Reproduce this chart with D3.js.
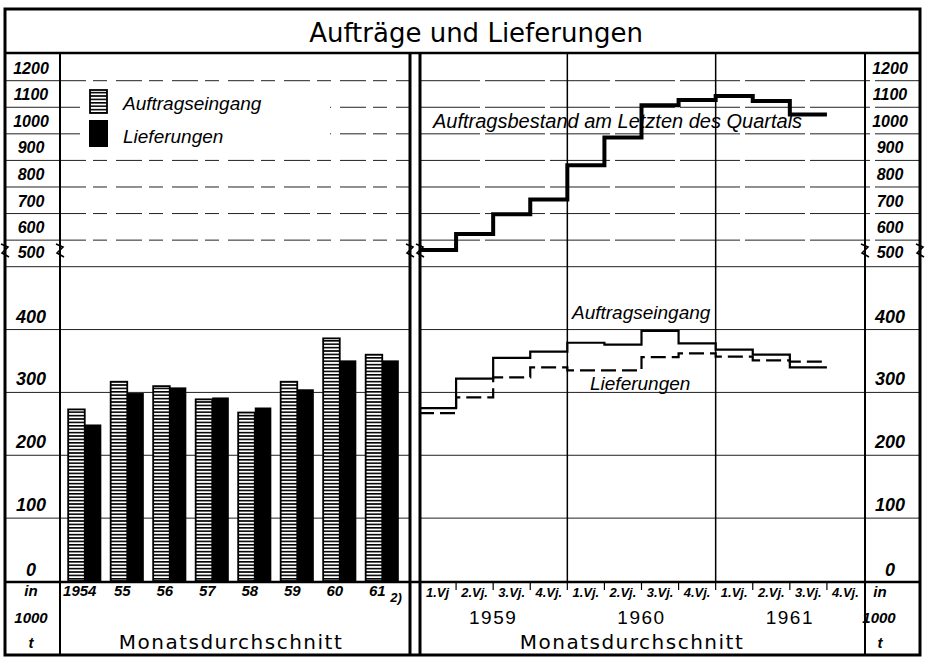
<!DOCTYPE html>
<meta charset="utf-8">
<style>
body { margin: 0; background: #fff; }
svg { display: block; }
.num { font-family: "Liberation Sans", Arial, sans-serif; font-style: italic; font-weight: bold; }
.lbl { font-family: "Liberation Sans", Arial, sans-serif; font-style: italic; }
.gerade { font-family: "DejaVu Sans", sans-serif; }
</style>
<svg width="925" height="657"></svg>
<script src="https://d3js.org/d3.v7.min.js"></script>
<script>
// Jahreswerte (Monatsdurchschnitt, 1000 t)
var jahre = ["1954", "55", "56", "57", "58", "59", "60", "61"];
var eingangJahr = [273, 317, 310, 289, 268, 317, 386, 360];
var lieferJahr = [249, 299, 308, 292, 276, 305, 351, 351];

// Quartalswerte 1959-1961
var quartale = ["1.Vj", "2.Vj.", "3.Vj.", "4.Vj.", "1.Vj.", "2.Vj.", "3.Vj.", "4.Vj.", "1.Vj.", "2.Vj.", "3.Vj.", "4.Vj."];
var quartalJahre = ["1959", "1960", "1961"];
var eingangQ = [275, 322, 355, 365, 379, 376, 398, 378, 368, 360, 340];
var lieferQ = [267, 292, 324, 340, 335, 335, 356, 362, 357, 351, 349];
var bestandQ = [563, 623, 697, 753, 882, 986, 1108, 1127, 1142, 1124, 1073];

var ticksUnten = [0, 100, 200, 300, 400];
var ticksOben = [500, 600, 700, 800, 900, 1000, 1100, 1200];

var svg = d3.select("svg");

// Rahmen
var oben = 9, titelUnten = 53, nullLinie = 582, unten = 655,
    links = 5, achseL = 60, panelL = 410, panelR = 420, achseR = 865, rechts = 920;

var yUnten = d3.scaleLinear().domain([0, 500]).range([581, 266.7]);
var yOben = d3.scaleLinear().domain([500, 1200]).range([266.7, 80.7]);

var xJahr = d3.scaleBand().domain(jahre).range([63.5, 403.5]).paddingInner(0.22).paddingOuter(0.11);
var xReihe = d3.scaleBand().domain(["e", "l"]).range([0, xJahr.bandwidth()]);

var qIds = quartale.map(function(d, i) { return i; });
var xQ = d3.scaleBand().domain(qIds).range([419, 864]);

var defs = svg.append("defs");
var hatch = defs.append("pattern").attr("id", "hatch")
    .attr("width", 6).attr("height", 3.4).attr("patternUnits", "userSpaceOnUse");
hatch.append("rect").attr("width", 6).attr("height", 3.4).attr("fill", "#fff");
hatch.append("rect").attr("width", 6).attr("height", 1.6).attr("fill", "#000");

// Gitterlinien
var grid = svg.append("g").attr("stroke", "#222").attr("stroke-width", 1);
ticksUnten.slice(1).concat([500]).forEach(function(v) {
  grid.append("line").attr("x1", links).attr("x2", panelL).attr("y1", yUnten(v)).attr("y2", yUnten(v));
  grid.append("line").attr("x1", panelR).attr("x2", rechts).attr("y1", yUnten(v)).attr("y2", yUnten(v));
});
ticksOben.slice(1).forEach(function(v) {
  grid.append("line").attr("x1", links).attr("x2", achseL).attr("y1", yOben(v)).attr("y2", yOben(v));
  grid.append("line").attr("x1", achseL).attr("x2", panelL).attr("y1", yOben(v)).attr("y2", yOben(v))
      .attr("stroke-dasharray", "26,7,14,9");
  grid.append("line").attr("x1", panelR).attr("x2", rechts).attr("y1", yOben(v)).attr("y2", yOben(v))
      .attr("stroke-dasharray", "60,5");
});

// Jahreslinien rechts
[4, 8].forEach(function(i) {
  svg.append("line").attr("x1", xQ(i)).attr("x2", xQ(i)).attr("y1", titelUnten).attr("y2", nullLinie)
      .attr("stroke", "#000").attr("stroke-width", 1.5);
});

// Balken
var gruppe = svg.append("g").selectAll("g").data(jahre).enter().append("g")
    .attr("transform", function(d) { return "translate(" + xJahr(d) + ",0)"; });
gruppe.append("rect")
    .attr("x", xReihe("e")).attr("width", xReihe.bandwidth())
    .attr("y", function(d, i) { return yUnten(eingangJahr[i]); })
    .attr("height", function(d, i) { return yUnten(0) - yUnten(eingangJahr[i]); })
    .attr("fill", "url(#hatch)").attr("stroke", "#000").attr("stroke-width", 1.8);
gruppe.append("rect")
    .attr("x", xReihe("l")).attr("width", xReihe.bandwidth())
    .attr("y", function(d, i) { return yUnten(lieferJahr[i]); })
    .attr("height", function(d, i) { return yUnten(0) - yUnten(lieferJahr[i]); })
    .attr("fill", "#000");

// Treppenlinien
function stufen(werte, y) {
  var pts = werte.map(function(v, i) { return [xQ(i), y(v)]; });
  var n = werte.length - 1;
  pts.push([xQ(n) + xQ.bandwidth(), y(werte[n])]);
  return d3.line().curve(d3.curveStepAfter)(pts);
}
svg.append("path").attr("d", stufen(bestandQ, yOben))
    .attr("fill", "none").attr("stroke", "#000").attr("stroke-width", 4);
svg.append("path").attr("d", stufen(eingangQ, yUnten))
    .attr("fill", "none").attr("stroke", "#000").attr("stroke-width", 2.2);
svg.append("path").attr("d", stufen(lieferQ, yUnten))
    .attr("fill", "none").attr("stroke", "#000").attr("stroke-width", 2.2)
    .attr("stroke-dasharray", "15,6");

// Rahmenlinien
var rahmen = svg.append("g").attr("stroke", "#000");
rahmen.append("rect").attr("x", links).attr("y", oben).attr("width", rechts - links).attr("height", unten - oben)
    .attr("fill", "none").attr("stroke-width", 3);
rahmen.append("line").attr("x1", links).attr("x2", rechts).attr("y1", titelUnten).attr("y2", titelUnten).attr("stroke-width", 2.5);
rahmen.append("line").attr("x1", links).attr("x2", rechts).attr("y1", nullLinie).attr("y2", nullLinie).attr("stroke-width", 2.5);
[[achseL, 2], [panelL, 3], [panelR, 3], [achseR, 2]].forEach(function(d) {
  rahmen.append("line").attr("x1", d[0]).attr("x2", d[0]).attr("y1", titelUnten).attr("y2", unten).attr("stroke-width", d[1]);
});
qIds.slice(1).forEach(function(i) {
  rahmen.append("line").attr("x1", xQ(i)).attr("x2", xQ(i)).attr("y1", nullLinie).attr("y2", nullLinie + 8).attr("stroke-width", 1.2);
});

// Bruchzeichen
[links, achseL, panelL, panelR, achseR, rechts].forEach(function(x) {
  var y = 252;
  svg.append("path")
      .attr("d", "M" + (x - 4) + "," + (y - 8) + "L" + (x + 3) + "," + (y - 5) + "L" + (x - 3) + "," + (y + 1) + "L" + (x + 4) + "," + (y + 5))
      .attr("fill", "none").attr("stroke", "#000").attr("stroke-width", 1.6);
});

// Titel
svg.append("text").attr("class", "gerade").attr("x", 476).attr("y", 42)
    .attr("text-anchor", "middle").attr("font-size", 26).text("Aufträge und Lieferungen");

// Achsenbeschriftung
[31, 890].forEach(function(cx) {
  ticksUnten.forEach(function(v) {
    svg.append("text").attr("class", "num").attr("x", cx).attr("y", yUnten(v) - (v === 0 ? 5 : 7))
        .attr("text-anchor", "middle").attr("font-size", 18).text(v);
  });
  ticksOben.forEach(function(v) {
    svg.append("text").attr("class", "num").attr("x", cx).attr("y", v === 500 ? 258 : yOben(v) - 7)
        .attr("text-anchor", "middle").attr("font-size", 16).text(v);
  });
});
[[31, "in", 596], [31, "1000", 623], [31, "t", 648], [880, "in", 597], [879, "1000", 623], [880, "t", 648]].forEach(function(d) {
  svg.append("text").attr("class", "num").attr("x", d[0]).attr("y", d[2])
      .attr("text-anchor", "middle").attr("font-size", 15).text(d[1]);
});

// Jahre links
jahre.forEach(function(d, i) {
  svg.append("text").attr("class", "num").attr("x", xJahr(d) + xJahr.bandwidth() / 2 - 5).attr("y", 596)
      .attr("text-anchor", "middle").attr("font-size", 15).text(d);
  if (i === jahre.length - 1) {
    svg.append("text").attr("class", "num").attr("x", xJahr(d) + xJahr.bandwidth() / 2 + 8).attr("y", 602)
        .attr("font-size", 13).text("2)");
  }
});

// Quartale rechts
quartale.forEach(function(d, i) {
  svg.append("text").attr("class", "num").attr("x", xQ(i) + xQ.bandwidth() / 2).attr("y", 597)
      .attr("text-anchor", "middle").attr("font-size", 13).text(d);
});
quartalJahre.forEach(function(d, i) {
  svg.append("text").attr("x", xQ(i * 4) + xQ.bandwidth() * 2).attr("y", 624)
      .attr("font-family", "Liberation Sans, Arial, sans-serif").attr("font-size", 19)
      .attr("letter-spacing", 1.5).attr("text-anchor", "middle").text(d);
});
[[231, 649], [632, 649]].forEach(function(d) {
  svg.append("text").attr("class", "gerade").attr("x", d[0]).attr("y", d[1])
      .attr("text-anchor", "middle").attr("font-size", 20).attr("letter-spacing", 1.5).text("Monatsdurchschnitt");
});

// Legende (mit weißem Hintergrund über den Gitterlinien)
svg.append("rect").attr("x", 80).attr("y", 84).attr("width", 250).attr("height", 68).attr("fill", "#fff");
svg.append("rect").attr("x", 90).attr("y", 90).attr("width", 17).attr("height", 23)
    .attr("fill", "url(#hatch)").attr("stroke", "#000").attr("stroke-width", 1.8);
svg.append("rect").attr("x", 89).attr("y", 120).attr("width", 19).attr("height", 27).attr("fill", "#000");
svg.append("text").attr("class", "lbl").attr("x", 123).attr("y", 110).attr("font-size", 19).text("Auftragseingang");
svg.append("text").attr("class", "lbl").attr("x", 123).attr("y", 143).attr("font-size", 19).text("Lieferungen");

// Linienbeschriftung
svg.append("text").attr("class", "lbl").attr("x", 433).attr("y", 128).attr("font-size", 20)
    .text("Auftragsbestand am Letzten des Quartals");
svg.append("text").attr("class", "lbl").attr("x", 572).attr("y", 319).attr("font-size", 19).text("Auftragseingang");
svg.append("text").attr("class", "lbl").attr("x", 590).attr("y", 390).attr("font-size", 19).text("Lieferungen");
</script>
